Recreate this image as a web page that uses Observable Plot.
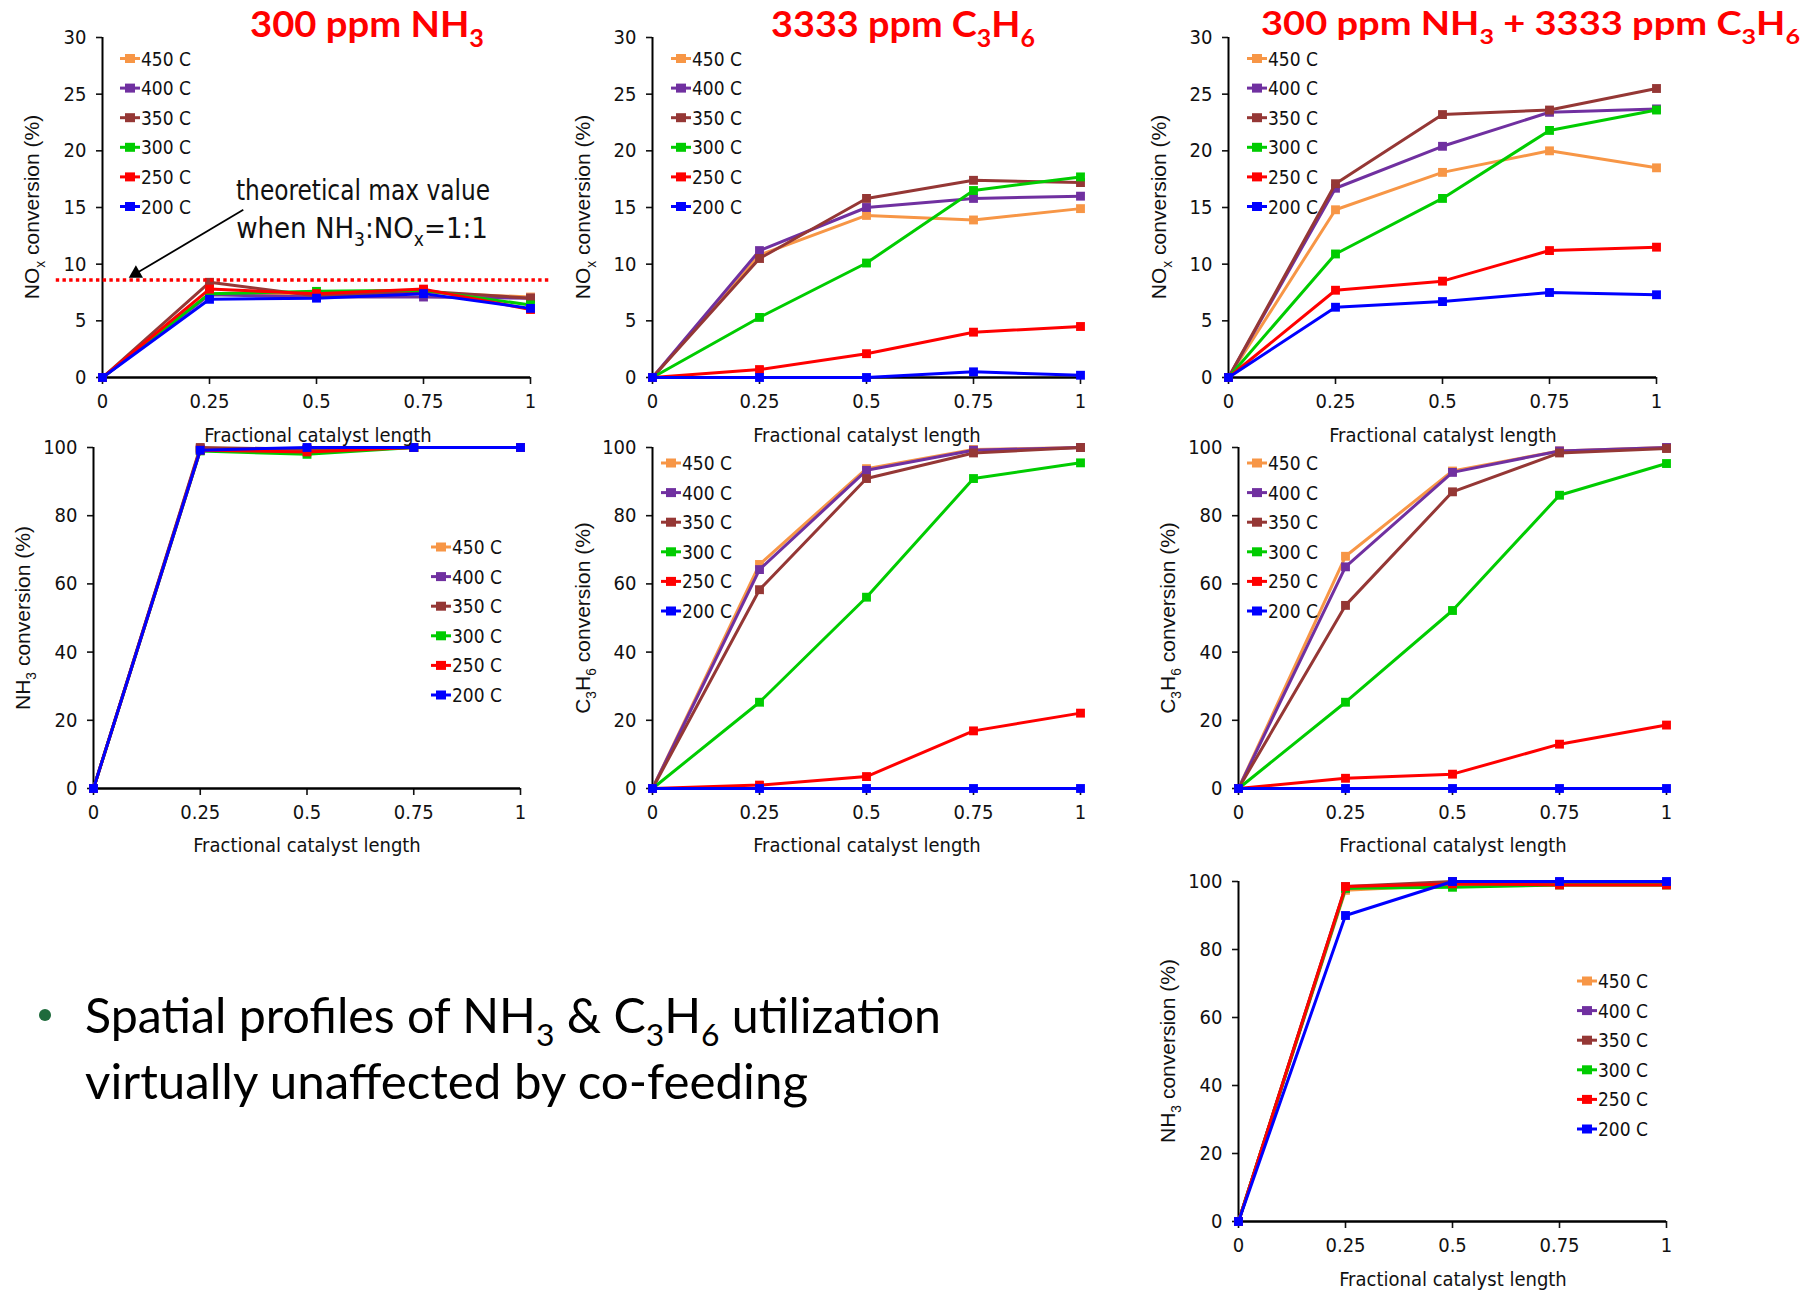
<!DOCTYPE html>
<html>
<head>
<meta charset="utf-8">
<script src="https://cdn.jsdelivr.net/npm/d3@7"></script>
<script src="https://cdn.jsdelivr.net/npm/@observablehq/plot@0.6"></script>
<style>
  html, body { margin: 0; padding: 0; background: #fff; }
  #root { position: relative; width: 1817px; height: 1292px; overflow: hidden; background: #fff; }
  #root svg { position: absolute; }
</style>
</head>
<body>
<div id="root"></div>
<script>
// ---------------- DATA ----------------
const temps = ["450 C", "400 C", "350 C", "300 C", "250 C", "200 C"];
const tempColors = ["#F79646", "#7030A0", "#953735", "#00CC00", "#FF0000", "#0000FF"];
const lengths = [0, 0.25, 0.5, 0.75, 1];
const xTicks = [0, 0.25, 0.5, 0.75, 1];
const xTickLabels = ["0", "0.25", "0.5", "0.75", "1"];
const noxTicks = [0, 5, 10, 15, 20, 25, 30];
const convTicks = [0, 20, 40, 60, 80, 100];

// NOx conversion (%), 300 ppm NH3 (rows follow temps)
const noxNH3 = [
  [0, 7.4, 7.2, 7.5, 7.1],
  [0, 7.3, 7.1, 7.1, 7.0],
  [0, 8.4, 7.2, 7.6, 7.0],
  [0, 7.4, 7.6, 7.7, 6.4],
  [0, 7.8, 7.4, 7.8, 6.0],
  [0, 6.9, 7.0, 7.4, 6.1]
];
// NOx conversion (%), 3333 ppm C3H6
const noxC3H6 = [
  [0, 10.8, 14.3, 13.9, 14.9],
  [0, 11.2, 15.0, 15.8, 16.0],
  [0, 10.5, 15.8, 17.4, 17.2],
  [0, 5.3, 10.1, 16.5, 17.7],
  [0, 0.7, 2.1, 4.0, 4.5],
  [0, 0, 0, 0.5, 0.2]
];
// NOx conversion (%), 300 ppm NH3 + 3333 ppm C3H6
const noxCofeed = [
  [0, 14.8, 18.1, 20.0, 18.5],
  [0, 16.7, 20.4, 23.4, 23.7],
  [0, 17.1, 23.2, 23.6, 25.5],
  [0, 10.9, 15.8, 21.8, 23.6],
  [0, 7.7, 8.5, 11.2, 11.5],
  [0, 6.2, 6.7, 7.5, 7.3]
];
// NH3 conversion (%), 300 ppm NH3
const nh3NH3 = [
  [0, 99.6, 99.5, 100, 100],
  [0, 99.6, 99.5, 100, 100],
  [0, 100, 99.5, 100, 100],
  [0, 99.0, 98.0, 100, 100],
  [0, 99.2, 98.7, 100, 100],
  [0, 99.2, 100, 100, 100]
];
// C3H6 conversion (%), 3333 ppm C3H6
const c3h6C3H6 = [
  [0, 65.7, 93.8, 99.4, 100],
  [0, 64.2, 93.3, 99.2, 100],
  [0, 58.3, 90.9, 98.4, 100],
  [0, 25.3, 56.1, 90.9, 95.5],
  [0, 1.0, 3.5, 16.9, 22.1],
  [0, 0, 0, 0, 0]
];
// C3H6 conversion (%), co-feed
const c3h6Cofeed = [
  [0, 68.1, 93.1, 99.0, 100],
  [0, 65.0, 92.7, 99.0, 100],
  [0, 53.7, 87.0, 98.4, 99.7],
  [0, 25.3, 52.2, 86.0, 95.3],
  [0, 3.0, 4.2, 13.0, 18.6],
  [0, 0, 0, 0, 0]
];
// NH3 conversion (%), co-feed
const nh3Cofeed = [
  [0, 97.4, 99.0, 99.0, 99.0],
  [0, 98.0, 99.5, 99.5, 99.5],
  [0, 98.5, 100, 99.8, 99.5],
  [0, 98.0, 98.3, 99.0, 99.0],
  [0, 98.5, 99.3, 99.0, 99.0],
  [0, 90.0, 100, 100, 100]
];
// Annotation: theoretical max NOx conversion when NH3:NOx = 1:1
const theoreticalMax = 8.6;
const maxLineSpan = [-0.108, 1.047];
const arrowTail = [0.329, 14.8];
const arrowHead = [0.078, 9.17];

// ---------------- STYLE ----------------
const NARROW = "'Liberation Sans Narrow', 'Arial Narrow', 'DejaVu Sans Condensed', sans-serif";
const SANS = "'Liberation Sans', Arial, sans-serif";
const CAL = "Lato, 'Open Sans', sans-serif";
const root = document.getElementById("root");
const M = { l: 70, r: 40, t: 14, b: 50 };

function toRows(data) {
  const out = [];
  data.forEach((vals, i) => vals.forEach((v, j) => out.push({ temp: temps[i], x: lengths[j], y: v })));
  return out;
}

function panel(cfg) {
  const { data, yDomain, yTicks, ax, ay, w, h, extra = [] } = cfg;
  const rows = toRows(data);
  const series = temps.flatMap(t => {
    const d = rows.filter(r => r.temp === t);
    return [
      Plot.line(d, { x: "x", y: "y", stroke: "temp", strokeWidth: 3 }),
      Plot.dot(d, { x: "x", y: "y", fill: "temp", symbol: "square", r: 5 })
    ];
  });
  const svg = Plot.plot({
    width: w + M.l + M.r, height: h + M.t + M.b,
    marginLeft: M.l, marginRight: M.r, marginTop: M.t, marginBottom: M.b,
    x: { domain: [0, 1] },
    y: { domain: yDomain },
    color: { domain: temps, range: tempColors },
    style: { fontFamily: NARROW, fontSize: "20px", color: "#111", background: "transparent", overflow: "visible" },
    marks: [
      Plot.axisY({ ticks: yTicks, tickSize: 6, tickPadding: 10, label: null, strokeWidth: 1.6 }),
      Plot.axisX({ ticks: xTicks, tickFormat: d => xTickLabels[xTicks.indexOf(d)], tickSize: 7, tickPadding: 9, label: null, strokeWidth: 1.6 }),
      Plot.ruleY([yDomain[0]], { stroke: "#000", strokeWidth: 2.6 }),
      Plot.ruleX([0], { stroke: "#000", strokeWidth: 2 }),
      ...series,
      ...extra
    ]
  });
  svg.style.left = (ax - M.l) + "px";
  svg.style.top = (ay - M.t) + "px";
  root.appendChild(svg);
}

const annotationMarks = [
  Plot.ruleY([theoreticalMax], { x1: maxLineSpan[0], x2: maxLineSpan[1], stroke: "#FF0000", strokeWidth: 3.6, strokeDasharray: "3.4,3.3" }),
  Plot.link([0], { x1: arrowTail[0], y1: arrowTail[1], x2: arrowHead[0], y2: arrowHead[1], stroke: "#000", strokeWidth: 1.8 }),
  Plot.dot([0], { x: arrowHead[0], y: arrowHead[1], symbol: "triangle", r: 5.3, fill: "#000", stroke: "none", rotate: 240 })
];

panel({ data: noxNH3, yDomain: [0, 30], yTicks: noxTicks, ax: 102, ay: 37, w: 428, h: 340, extra: annotationMarks });
panel({ data: noxC3H6, yDomain: [0, 30], yTicks: noxTicks, ax: 652, ay: 37, w: 428, h: 340 });
panel({ data: noxCofeed, yDomain: [0, 30], yTicks: noxTicks, ax: 1228, ay: 37, w: 428, h: 340 });
panel({ data: nh3NH3, yDomain: [0, 100], yTicks: convTicks, ax: 93, ay: 447, w: 427, h: 341 });
panel({ data: c3h6C3H6, yDomain: [0, 100], yTicks: convTicks, ax: 652, ay: 447, w: 428, h: 341 });
panel({ data: c3h6Cofeed, yDomain: [0, 100], yTicks: convTicks, ax: 1238, ay: 447, w: 428, h: 341 });
panel({ data: nh3Cofeed, yDomain: [0, 100], yTicks: convTicks, ax: 1238, ay: 881, w: 428, h: 340 });

// ---------------- TEXT OVERLAY ----------------
const ov = d3.select(root).append("svg")
  .attr("width", 1817).attr("height", 1292)
  .style("left", "0px").style("top", "0px").style("pointer-events", "none");

// parts: strings are normal text, [s] arrays are subscripts
function rich(x, y, parts, o) {
  const fs = o.size;
  const t = ov.append("text").attr("x", x).attr("y", y)
    .attr("font-family", o.font).attr("font-size", fs)
    .attr("font-weight", o.weight || 400).attr("fill", o.fill || "#000")
    .attr("text-anchor", o.anchor || "start");
  if (o.rotate) t.attr("transform", `rotate(${o.rotate},${x},${y})`);
  const shift = fs * 0.28;
  let cur = 0;
  parts.forEach(p => {
    const sub = Array.isArray(p);
    const target = sub ? shift : 0;
    const ts = t.append("tspan").attr("dy", target - cur).text(sub ? p[0] : p);
    if (sub) ts.attr("font-size", fs * 0.66);
    cur = target;
  });
  if (o.length) t.attr("textLength", o.length).attr("lengthAdjust", "spacingAndGlyphs");
  return t;
}

// Panel titles
const titleStyle = { font: CAL, size: 36, weight: 700, fill: "#FF0000" };
rich(250, 37, ["300 ppm NH", ["3"]], { ...titleStyle, length: 234 });
rich(771, 37, ["3333 ppm C", ["3"], "H", ["6"]], { ...titleStyle, length: 264 });
rich(1261, 35, ["300 ppm NH", ["3"], " + 3333 ppm C", ["3"], "H", ["6"]], { ...titleStyle, size: 33, length: 539 });

// Y-axis titles (rotated)
const yl = { font: SANS, size: 21, anchor: "middle", rotate: -90, fill: "#111" };
const noxLab = ["NO", ["x"], " conversion (%)"];
const nh3Lab = ["NH", ["3"], " conversion (%)"];
const c3h6Lab = ["C", ["3"], "H", ["6"], " conversion (%)"];
rich(39, 207, noxLab, yl);
rich(590, 207, noxLab, yl);
rich(1166, 207, noxLab, yl);
rich(30, 618, nh3Lab, yl);
rich(590, 618, c3h6Lab, yl);
rich(1175, 618, c3h6Lab, yl);
rich(1175, 1051, nh3Lab, yl);

// X-axis titles
const xl = { font: NARROW, size: 20, anchor: "middle", fill: "#111" };
const xTitle = ["Fractional catalyst length"];
rich(318, 442, xTitle, xl);
rich(867, 442, xTitle, xl);
rich(1443, 442, xTitle, xl);
rich(307, 852, xTitle, xl);
rich(867, 852, xTitle, xl);
rich(1453, 852, xTitle, xl);
rich(1453, 1286, xTitle, xl);

// Legends
function legend(x, y0) {
  temps.forEach((t, i) => {
    const y = y0 + i * 29.6;
    ov.append("line").attr("x1", x).attr("x2", x + 20).attr("y1", y).attr("y2", y)
      .attr("stroke", tempColors[i]).attr("stroke-width", 3);
    ov.append("rect").attr("x", x + 5).attr("y", y - 4.5).attr("width", 10).attr("height", 9)
      .attr("fill", tempColors[i]);
    ov.append("text").attr("x", x + 21).attr("y", y + 7).attr("font-family", NARROW)
      .attr("font-size", 19).attr("fill", "#111").text(t);
  });
}
legend(120, 58.5);
legend(671, 58.5);
legend(1247, 58.5);
legend(431, 547);
legend(661, 463);
legend(1247, 463);
legend(1577, 981);

// Annotation text
const an = { font: NARROW, size: 29, anchor: "middle", fill: "#111" };
rich(363, 200, ["theoretical  max value"], { ...an, length: 254 });
rich(362, 238, ["when NH", ["3"], ":NO", ["x"], "=1:1"], an);

// Bullet text
ov.append("circle").attr("cx", 45).attr("cy", 1015).attr("r", 6).attr("fill", "#1E6B3C");
const bt = { font: CAL, size: 48, fill: "#000" };
rich(85, 1033, ["Spatial profiles of NH", ["3"], " & C", ["3"], "H", ["6"], " utilization"], { ...bt, length: 856 });
rich(85, 1099, ["virtually unaffected by co-feeding"], { ...bt, length: 723 });
</script>
</body>
</html>
